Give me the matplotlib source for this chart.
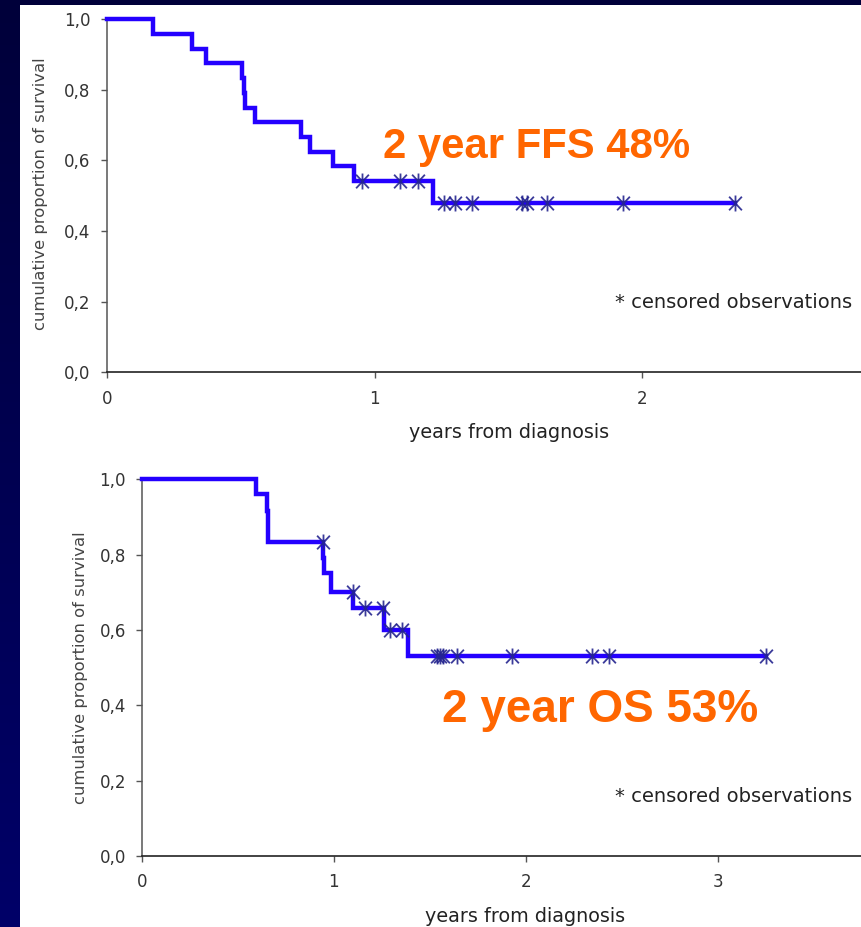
import numpy as np
import matplotlib
matplotlib.use("Agg")
import matplotlib.pyplot as plt
from matplotlib.path import Path
from matplotlib.patches import Rectangle
from matplotlib.colors import LinearSegmentedColormap

# ---- failure-free survival (top panel) ----
ffs_event_years = [0.172, 0.317, 0.371, 0.506, 0.511, 0.515, 0.554, 0.726,
                   0.759, 0.844, 0.925, 1.217]
ffs_survival = [0.958, 0.917, 0.875, 0.833, 0.792, 0.750, 0.708, 0.667,
                0.625, 0.583, 0.542, 0.48]
ffs_censor_years = [0.952, 1.095, 1.164, 1.261, 1.300, 1.363, 1.552, 1.568,
                    1.643, 1.929, 2.346]
ffs_label = "2 year FFS 48%"

# ---- overall survival (bottom panel) ----
os_event_years = [0.594, 0.650, 0.655, 0.658, 0.945, 0.947, 0.985, 1.100,
                  1.259, 1.388]
os_survival = [0.960, 0.917, 0.875, 0.833, 0.790, 0.750, 0.700, 0.657,
               0.600, 0.53]
os_censor_years = [0.941, 1.098, 1.162, 1.257, 1.292, 1.353, 1.536, 1.553,
                   1.570, 1.640, 1.927, 2.343, 2.435, 3.252]
os_label = "2 year OS 53%"

y_ticks = [0.0, 0.2, 0.4, 0.6, 0.8, 1.0]
y_tick_labels = ["0,0", "0,2", "0,4", "0,6", "0,8", "1,0"]

LINE_BLUE = "#2400ff"
MARK_NAVY = "#25258f"
ORANGE = "#ff6600"
TEXT_GREY = "#333333"

# six-armed asterisk used for censored observations
asterisk = Path(
    [(-0.8, -0.85), (0.8, 0.85), (-0.8, 0.85), (0.8, -0.85), (0, -1), (0, 1)],
    [Path.MOVETO, Path.LINETO] * 3,
)


def survival_at(times, event_years, survival):
    levels = np.concatenate([[1.0], survival])
    idx = np.searchsorted(event_years, times, side="right")
    return levels[idx]


def km_panel(ax, event_years, survival, censor_years, x_max, x_ticks):
    event_years = np.asarray(event_years)
    survival = np.asarray(survival)
    censor_years = np.asarray(censor_years)
    end = max(censor_years.max(), event_years.max())
    xs = np.concatenate([[0.0], event_years, [end]])
    ys = np.concatenate([[1.0], survival, [survival[-1]]])
    ax.step(xs, ys, where="post", color=LINE_BLUE, lw=3.2,
            solid_joinstyle="miter", zorder=3, clip_on=False)
    ax.plot(censor_years, survival_at(censor_years, event_years, survival),
            ls="none", marker=asterisk, ms=11.5, mew=1.3, mfc="none",
            mec=MARK_NAVY, alpha=0.9, zorder=4, clip_on=False)

    ax.set_xlim(0, x_max)
    ax.set_ylim(0, 1.0)
    ax.set_xticks(x_ticks)
    ax.set_xticklabels([str(t) for t in x_ticks])
    ax.set_yticks(y_ticks)
    ax.set_yticklabels(y_tick_labels)
    for side in ("top", "right"):
        ax.spines[side].set_visible(False)
    ax.spines["left"].set_color("#555555")
    ax.spines["left"].set_linewidth(1.1)
    ax.spines["bottom"].set_color("#222222")
    ax.spines["bottom"].set_linewidth(1.2)
    ax.spines["left"].set_zorder(2)
    ax.tick_params(axis="both", direction="out", length=4.5, width=1.0,
                   color="#555555", labelcolor=TEXT_GREY, labelsize=12)
    ax.tick_params(axis="y", pad=7)
    ax.set_facecolor("white")
    for lab in ax.get_xticklabels() + ax.get_yticklabels():
        lab.set_family("DejaVu Sans")


fig = plt.figure(figsize=(8.62, 9.27), dpi=100, facecolor="white")

# slide frame: dark band on top and a navy strip down the left side
bg = fig.add_axes([0, 0, 1, 1], zorder=-10)
bg.set_xlim(0, 862)
bg.set_ylim(927, 0)
bg.axis("off")
navy = LinearSegmentedColormap.from_list("navy", ["#00003a", "#000068"])
bg.imshow(np.linspace(0, 1, 256)[:, None], extent=(0, 20, 927, 0),
          aspect="auto", cmap=navy, interpolation="bilinear")
bg.add_patch(Rectangle((0, 0), 862, 5, color="#00003a", lw=0))

# ---- top panel ----
ax1 = fig.add_axes([0.1238, 0.5984, 0.8762, 0.3808])
km_panel(ax1, ffs_event_years, ffs_survival, ffs_censor_years, 2.82, [0, 1, 2])
ax1.tick_params(axis="x", pad=8.5)
ax1.set_ylabel("cumulative proportion of survival", fontsize=11.8,
               color="#444444", va="center", family="DejaVu Sans")
ax1.yaxis.set_label_coords(-0.0883, 0.5065)
ax1.set_xlabel("years from diagnosis", fontsize=13.8, color="#222222",
               va="center", family="DejaVu Sans")
ax1.xaxis.set_label_coords(0.533, -0.172)
ax1.text(0.673, 0.181, "* censored observations", transform=ax1.transAxes,
         ha="left", va="baseline", fontsize=14, color="#222222",
         family="DejaVu Sans")
ax1.text(0.5685, 0.606, ffs_label, transform=ax1.transAxes, ha="center",
         va="baseline", fontsize=30.2, fontweight="bold", color=ORANGE,
         family="Liberation Sans", zorder=5)

# ---- bottom panel ----
ax2 = fig.add_axes([0.1647, 0.0766, 0.8353, 0.4064])
km_panel(ax2, os_event_years, os_survival, os_censor_years, 3.752,
         [0, 1, 2, 3])
ax2.tick_params(axis="x", pad=8)
ax2.set_ylabel("cumulative proportion of survival", fontsize=11.8,
               color="#444444", va="center", family="DejaVu Sans")
ax2.yaxis.set_label_coords(-0.0847, 0.50)
ax2.set_xlabel("years from diagnosis", fontsize=13.8, color="#222222",
               va="center", family="DejaVu Sans")
ax2.xaxis.set_label_coords(0.5326, -0.161)
ax2.text(0.6575, 0.144, "* censored observations", transform=ax2.transAxes,
         ha="left", va="baseline", fontsize=14, color="#222222",
         family="DejaVu Sans")
ax2.text(0.636, 0.3566, os_label, transform=ax2.transAxes, ha="center",
         va="baseline", fontsize=33, fontweight="bold", color=ORANGE,
         family="Liberation Sans", zorder=5)

fig.savefig("out.png", dpi=100, facecolor=fig.get_facecolor())
